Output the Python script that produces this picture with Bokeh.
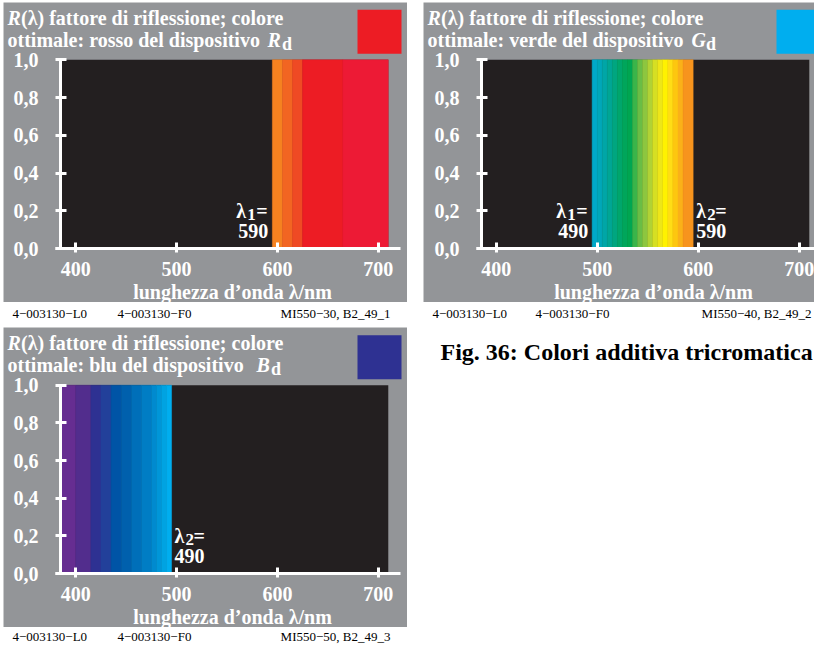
from bokeh.plotting import figure
from bokeh.models import Range1d, FixedTicker, Label, BoxAnnotation, ColumnDataSource, Spacer
from bokeh.layouts import column, row
from bokeh.embed import file_html
from bokeh.resources import INLINE

# ---------------- data ----------------
X_TICKS = [400, 500, 600, 700]
Y_TICKS = [0.0, 0.2, 0.4, 0.6, 0.8, 1.0]
Y_TICK_LABELS = ["0,0", "0,2", "0,4", "0,6", "0,8", "1,0"]
WL_MIN, WL_MAX = 385, 710          # plotted wavelength domain (nm)
R_MAX = 1.0

# red device colour: optimal colour from lambda1 = 590 nm to the end
RED_EDGES = [595, 605, 615, 625, 665, 710]
RED_COLORS = ["#F58220", "#F26522", "#EF4A24", "#ED1C24", "#ED1A35"]
RED_R = [1.0, 1.0, 1.0, 1.0, 1.0]

# green device colour: optimal colour from lambda1 = 490 nm to lambda2 = 590 nm
GREEN_EDGES = [495, 500, 505, 510, 515, 520, 525, 530, 535, 540, 545, 550,
               555, 560, 565, 570, 575, 580, 585, 595]
GREEN_COLORS = ["#00A8C8", "#00A7B9", "#00A6A7", "#00A694", "#00A680", "#00A66C",
                "#00A65B", "#00A651", "#3AB54A", "#6ABD45", "#8DC63F", "#B1D235",
                "#D6DF23", "#EEE619", "#FFF200", "#FFDD15", "#FDC70F", "#FAB118",
                "#F7941D"]
GREEN_R = [1.0] * 19

# blue device colour: optimal colour from the start to lambda2 = 490 nm
BLUE_EDGES = [385, 400, 415, 425, 435, 445, 455, 465, 475, 480, 485, 490, 495]
BLUE_COLORS = ["#662D91", "#522D8D", "#2E3192", "#22409A", "#0054A6", "#0060AD",
               "#006FB9", "#007DC4", "#008ACF", "#0096D8", "#00A3E2", "#00AEEF"]
BLUE_R = [1.0] * 12

TITLE_LINE1 = "(λ) fattore di riflessione; colore"
TITLE_LINE2 = ["ottimale: rosso del dispositivo", "ottimale: verde del dispositivo",
               "ottimale: blu del dispositivo"]
DEVICE_LETTER = ["R", "G", "B"]
SWATCH_COLORS = ["#ED1C24", "#00AEEF", "#2E3192"]
FOOTER_RIGHT = ["MI550−30, B2_49_1", "MI550−40, B2_49_2", "MI550−50, B2_49_3"]
FOOTER_L = "4−003130−L0"
FOOTER_F = "4−003130−F0"
CAPTION = "Fig. 36: Colori additiva tricromatica"
X_LABEL = "lunghezza d’onda λ/nm"

# ---------------- style ----------------
FONT = "Liberation Serif"
GREY = "#939598"
BLACK = "#231F20"
WHITE = "#FFFFFF"
BASE_CORR = 0.35   # label baseline correction (fraction of font size)


def make_panel(spec):
    fl, ft, fw, fh = spec["fig"]          # figure box in page pixels
    x400, x700 = spec["xt"]               # pixel of 400 nm and 700 nm
    y0, y1 = spec["y"]                    # pixel of R=0 and R=1
    yax = spec["yaxis_px"]
    sx = (x700 - x400) / 300.0
    sy = y0 - y1

    def X(px):
        return 400 + (px - x400) / sx

    def Y(py):
        return (y0 - py) / sy

    def PX(x):
        return x400 + (x - 400) * sx

    p = figure(width=fw, height=fh, x_range=Range1d(X(fl), X(fl + fw)),
               y_range=Range1d(Y(ft + fh), Y(ft)), output_backend="svg",
               toolbar_location=None, title=None, min_border=0,
               background_fill_color=GREY, border_fill_color=GREY,
               outline_line_color=None)
    p.grid.visible = False

    # black spectral domain
    p.quad(left=[WL_MIN], right=[WL_MAX], bottom=[0], top=[R_MAX],
           fill_color=BLACK, line_color=None)
    edges, colors, refl = spec["bands"]
    src = ColumnDataSource(dict(left=edges[:-1], right=edges[1:], top=refl,
                                bottom=[0] * len(refl), color=colors))
    p.quad(left="left", right="right", top="top", bottom="bottom", source=src,
           fill_color="color", line_color="color", line_width=0.5)

    # axes (drawn inside the panel at fixed data positions)
    for ax in (p.xaxis[0], p.yaxis[0]):
        ax.axis_line_color = WHITE
        ax.axis_line_width = 3
        ax.major_tick_line_color = WHITE
        ax.major_tick_line_width = 3
        ax.minor_tick_line_color = None
        ax.major_label_text_font = FONT
        ax.major_label_text_font_style = "bold"
        ax.major_label_text_font_size = "20px"
        ax.major_label_text_color = WHITE
    xa = p.xaxis[0]
    xa.fixed_location = 0
    xa.bounds = (X(yax - 5), X(spec["xaxis_end_px"]))
    xa.ticker = FixedTicker(ticks=X_TICKS)
    xa.major_tick_in = 6
    xa.major_tick_out = 4
    xa.major_label_standoff = 9
    ya = p.yaxis[0]
    ya.fixed_location = X(yax)
    ya.ticker = FixedTicker(ticks=Y_TICKS)
    ya.major_label_overrides = {t: l for t, l in zip(Y_TICKS, Y_TICK_LABELS)}
    ya.major_tick_in = 6
    ya.major_tick_out = 5
    ya.major_label_standoff = 17
    ya.bounds = (0, R_MAX)

    def lab(px, py, text, style="bold", size=20, align="left", color=WHITE):
        p.add_layout(Label(x=X(px), y=Y(py - BASE_CORR * size), text=text,
                           text_font=FONT, text_font_style=style,
                           text_font_size=f"{size}px", text_color=color,
                           text_align=align, text_baseline="alphabetic"))

    # x axis title
    lab(spec["xlabel_cx"], y0 + 50, X_LABEL, align="center")

    # title
    tx = spec["tx"]
    b1 = y1 - 35
    b2 = y1 - 13
    lab(tx, b1, "R", style="bold italic")
    lab(tx + 13.5, b1, TITLE_LINE1)
    lab(tx, b2, spec["line2"])
    lab(spec["letter_x"], b2, spec["letter"], style="bold italic")
    lab(spec["letter_x"] + 14.5, b2 + 3, "d", size=18)

    # swatch of the device colour
    sx0 = spec["swatch_x"]
    p.add_layout(BoxAnnotation(left=X(sx0), right=X(sx0 + 44), top=Y(y1 - 50),
                               bottom=Y(y1 - 6), fill_color=spec["swatch_color"],
                               fill_alpha=1.0, line_color=None))

    # lambda annotations
    la = y0 - 31
    lb = y0 - 11
    for kind, wl_text in spec["lams"]:
        if kind == 1:
            e = PX(edges[0])
            lab(e - 36, la, "λ")
            lab(e - 25, la + 3, "1", size=17)
            lab(e - 16, la, "=")
            lab(e - 4, lb, wl_text, align="right")
        else:
            e = PX(edges[-1])
            lab(e + 3, la, "λ")
            lab(e + 14, la + 3, "2", size=17)
            lab(e + 22, la, "=")
            lab(e + 3, lb, wl_text)
    return p


def make_text_fig(w, h, items):
    f = figure(width=w, height=h, x_range=Range1d(0, w), y_range=Range1d(h, 0),
               output_backend="svg", toolbar_location=None, title=None,
               x_axis_type=None, y_axis_type=None, min_border=0,
               background_fill_color=WHITE, border_fill_color=WHITE,
               outline_line_color=None)
    f.grid.visible = False
    for (x, y, text, size, style, align) in items:
        f.add_layout(Label(x=x, y=y - BASE_CORR * size, text=text, text_font=FONT,
                           text_font_size=f"{size}px", text_font_style=style,
                           text_color="#000000", text_align=align,
                           text_baseline="alphabetic"))
    return f


specs = [
    dict(fig=(3, 2, 404, 300), xt=(75.3, 377.7), y=(248, 59.3), yaxis_px=60,
         xaxis_end_px=400, xlabel_cx=232, bands=(RED_EDGES, RED_COLORS, RED_R), tx=7,
         line2=TITLE_LINE2[0], letter=DEVICE_LETTER[0], letter_x=267, swatch_x=357,
         swatch_color=SWATCH_COLORS[0], lams=[(1, "590")]),
    dict(fig=(423, 2, 391, 300), xt=(495.7, 798.7), y=(248, 59.3), yaxis_px=481,
         xaxis_end_px=814, xlabel_cx=653, bands=(GREEN_EDGES, GREEN_COLORS, GREEN_R),
         tx=427, line2=TITLE_LINE2[1], letter=DEVICE_LETTER[1], letter_x=691,
         swatch_x=776, swatch_color=SWATCH_COLORS[1], lams=[(1, "490"), (2, "590")]),
    dict(fig=(3, 327, 404, 300), xt=(75.3, 377.7), y=(573, 384.7), yaxis_px=60,
         xaxis_end_px=400, xlabel_cx=232, bands=(BLUE_EDGES, BLUE_COLORS, BLUE_R),
         tx=7, line2=TITLE_LINE2[2], letter=DEVICE_LETTER[2], letter_x=256,
         swatch_x=357, swatch_color=SWATCH_COLORS[2], lams=[(2, "490")]),
]

p1, p2, p3 = [make_panel(s) for s in specs]

FS = 13
f1 = make_text_fig(404, 25, [(9, 15.5, FOOTER_L, FS, "normal", "left"),
                             (114, 15.5, FOOTER_F, FS, "normal", "left"),
                             (387, 15.5, FOOTER_RIGHT[0], FS, "normal", "right")])
f2 = make_text_fig(391, 25, [(9, 15.5, FOOTER_L, FS, "normal", "left"),
                             (112, 15.5, FOOTER_F, FS, "normal", "left"),
                             (388, 15.5, FOOTER_RIGHT[1], FS, "normal", "right")])
f3 = make_text_fig(404, 18, [(9, 14, FOOTER_L, FS, "normal", "left"),
                             (114, 14, FOOTER_F, FS, "normal", "left"),
                             (387, 14, FOOTER_RIGHT[2], FS, "normal", "right")])
cap = make_text_fig(391, 318, [(17, 33, CAPTION, 24, "bold", "left")])

layout = column(
    Spacer(width=10, height=2),
    row(Spacer(width=3, height=10), column(p1, f1), Spacer(width=16, height=10),
        column(p2, f2)),
    row(Spacer(width=3, height=10), column(p3, f3), Spacer(width=16, height=10), cap),
)

open("out.html", "w").write(file_html(layout, INLINE))
